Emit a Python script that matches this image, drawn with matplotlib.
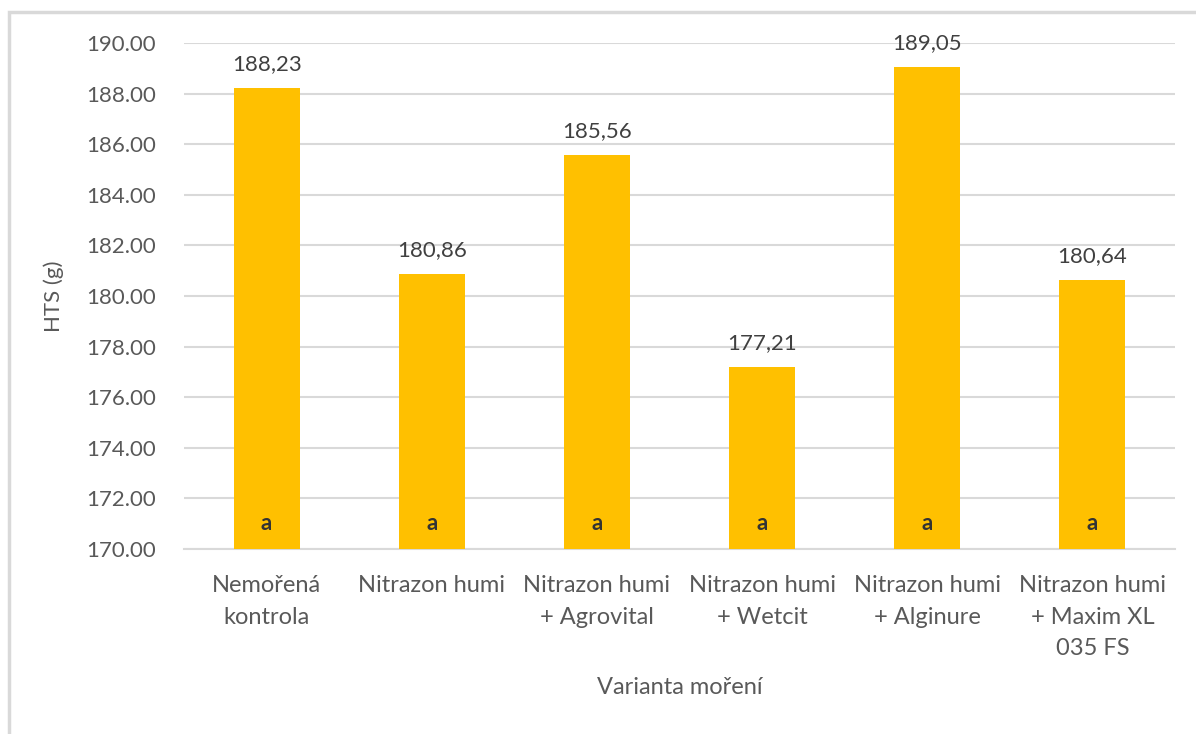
import numpy as np
import matplotlib.pyplot as plt
from matplotlib.patches import Rectangle

# data
varianty = ["Nemořená\nkontrola", "Nitrazon humi", "Nitrazon humi\n+ Agrovital",
            "Nitrazon humi\n+ Wetcit", "Nitrazon humi\n+ Alginure",
            "Nitrazon humi\n+ Maxim XL\n035 FS"]
hts = [188.23, 180.86, 185.56, 177.21, 189.05, 180.64]
skupiny = ["a", "a", "a", "a", "a", "a"]

plt.rcParams['font.family'] = ['Lato', 'DejaVu Sans']
txt = '#595959'

fig = plt.figure(figsize=(11.96, 7.34), dpi=100)
ax = fig.add_axes([184 / 1196, 1 - 549 / 734, (1175 - 184) / 1196, (549 - 43) / 734])

# chart frame (cut at right and bottom edge of the picture)
fig.patches.append(Rectangle((9 / 1196, -0.05), 1.2, 1 - 12 / 734 + 0.05,
                             transform=fig.transFigure, fill=False,
                             edgecolor='#d9d9d9', linewidth=2.5))

x = np.arange(len(hts))
ax.bar(x, [v - 170 for v in hts], bottom=170, width=0.4, color='#FFC000', zorder=3)

for xi, v, s in zip(x, hts, skupiny):
    ax.annotate(f"{v:.2f}".replace('.', ','), (xi, v), xytext=(0, 10),
                textcoords='offset points', ha='center', va='bottom',
                fontsize=16, color='#404040')
    ax.text(xi, 170.6, s, ha='center', va='bottom', fontsize=16,
            fontweight='bold', color='#333333', zorder=4)

ax.set_xlim(-0.5, len(hts) - 0.5)
ax.set_ylim(170, 190)
ax.set_yticks(np.arange(170, 190.1, 2))
ax.set_yticklabels([f"{t:.2f}" for t in np.arange(170, 190.1, 2)])
ax.set_xticks(x)
ax.set_xticklabels(varianty, linespacing=1.6)
ax.tick_params(axis='both', length=0, labelsize=16, labelcolor=txt)
ax.tick_params(axis='x', labelsize=17, pad=19)
ax.tick_params(axis='y', pad=20)
ax.grid(axis='y', color='#d9d9d9', linewidth=1.5, zorder=0)
for sp in ['top', 'right', 'left']:
    ax.spines[sp].set_visible(False)
ax.spines['bottom'].set_color('#d9d9d9')
ax.spines['bottom'].set_linewidth(1.5)

ax.set_ylabel("HTS (g)", fontsize=16, color=txt, labelpad=16)
ax.set_xlabel("Varianta moření", fontsize=17, color=txt, labelpad=13)

fig.savefig("out.png", dpi=100)
